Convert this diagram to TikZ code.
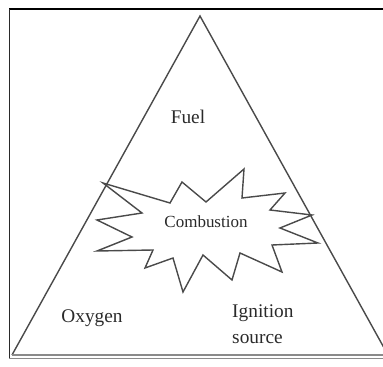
\documentclass[tikz,border=0pt]{standalone}
\usepackage{fontspec}
\setmainfont{Liberation Serif}
\usetikzlibrary{positioning}
\definecolor{InkDark}{HTML}{2A2A2A}
\definecolor{InkSoft}{HTML}{8A8A8A}
\tikzset{
  side/.style={line width=1.2pt, draw=InkDark!85, line join=miter},
  burst/.style={line width=1.2pt, draw=InkDark!85, fill=white, line join=miter},
  corner/.style={font=\fontsize{16.5}{19}\selectfont, text=InkDark, align=center, inner sep=0pt},
}
\begin{document}
\begin{tikzpicture}[x=0.03cm, y=-0.03cm]
\useasboundingbox (0,0) rectangle (383,367);
\clip (0,0) rectangle (383,367);
% ---------- frame
\draw[line width=2.2pt, black] (9,9) -- (390,9);
\draw[line width=1pt, InkDark] (9.5,9) -- (9.5,358);
\draw[line width=0.9pt, InkSoft] (9,358.5) -- (390,358.5);
% ---------- fire triangle
\coordinate (apex) at (200,16);
\coordinate (bl) at (12,355);
\coordinate (br) at (388,355);
\draw[side] (bl) -- (apex) -- (br);
\draw[line width=0.9pt, InkSoft] (bl) -- (br);
% ---------- burst
\draw[burst] (103,183) -- (170,203) -- (182,182) -- (206,202) -- (244,169)
  -- (242,198) -- (285,193) -- (270,210) -- (312,215) -- (280,228)
  -- (318,243) -- (272,245) -- (282,272) -- (240,253) -- (232,280)
  -- (203,255) -- (183,292) -- (173,258) -- (145,268) -- (153,250)
  -- (97,251) -- (132,237) -- (97,220) -- (142,213) -- cycle;
% ---------- labels
\node[corner] (fuel) at (188,117) {Fuel};
\node[corner, font=\fontsize{14.5}{16}\selectfont] (comb) at (206,222) {Combustion};
\node[corner] (oxy) at (92,318) {Oxygen};
\node[corner, align=left, anchor=west] (ign) at (232,324) {Ignition\\[3pt]source};
\end{tikzpicture}
\end{document}
